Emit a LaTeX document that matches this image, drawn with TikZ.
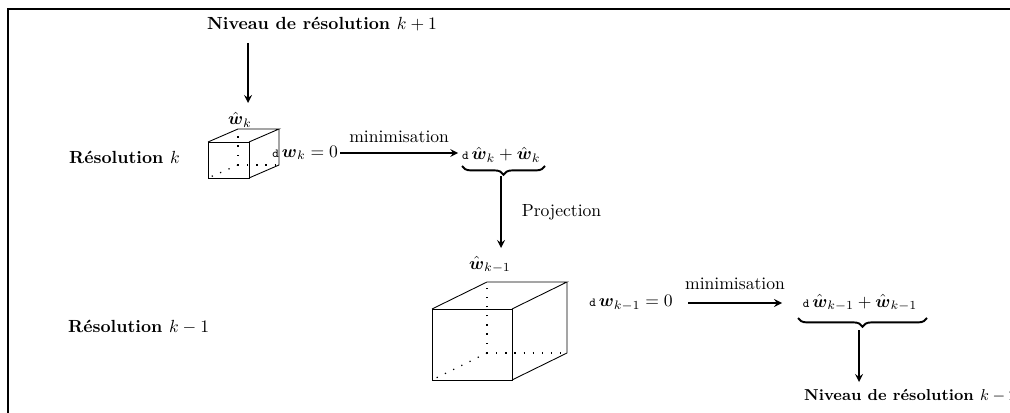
\documentclass[tikz,border=0pt]{standalone}
\usepackage{amsmath}
\usepackage{amssymb}
\usepackage{tikz}
\usetikzlibrary{decorations.pathreplacing}

\newcommand{\dpetit}{\mbox{\scriptsize\ttfamily d}\,}

\begin{document}
\begin{tikzpicture}[flow/.style={->, >=stealth, line width=1pt},
		titre/.style={font=\bfseries},
		arete/.style={line width=0.5pt},
		cache/.style={dash pattern=on 0.7pt off 4.5pt, line width=0.7pt},
		accolade/.style={decorate, decoration={brace, mirror, amplitude=5pt}, line width=1.1pt}]
			\useasboundingbox (0,0) rectangle (20.2,-8.26);
			\draw[line width=0.6pt] (0.16,-8.3) -- (0.16,-0.18) -- (20.3,-0.18);
			% niveau k
			\node[titre] (nivhaut) at (6.44,-0.48) {Niveau de r\'esolution $k+1$};
			\node[titre, anchor=west] (resk) at (1.26,-3.14) {R\'esolution $k$};
			\node (wk) at (4.8,-2.4) {$\hat{\boldsymbol{w}}_k$};
			\coordinate (a1) at (4.96,-0.86);
			\draw[flow] (a1) -- (a1 |- 0,-2.06);
			\draw[arete] (4.16,-3.56) -- (4.98,-3.56) -- (4.98,-2.84) -- (4.16,-2.84) -- cycle;
			\draw[arete] (4.16,-2.84) -- (4.76,-2.58) -- (5.58,-2.58) -- (4.98,-2.84);
			\draw[arete] (5.58,-2.58) -- (5.58,-3.3) -- (4.98,-3.56);
			\draw[cache] (4.76,-3.3) -- (4.76,-2.58);
			\draw[cache] (4.76,-3.3) -- (5.58,-3.3);
			\draw[cache] (4.76,-3.3) -- (4.16,-3.56);
			\node[anchor=east, inner sep=1pt] (dwk) at (6.8,-3.06) {$\dpetit\boldsymbol{w}_k = 0$};
			\node[anchor=west, inner sep=1pt] (dhk) at (9.2,-3.1) {$\dpetit\hat{\boldsymbol{w}}_k + \hat{\boldsymbol{w}}_k$};
			\draw[flow] (dwk.east) -- ([xshift=-1pt]dwk.east -| dhk.west) node[midway, above=2pt] (mink) {minimisation};
			\draw[accolade] (9.24,-3.32) -- (10.9,-3.32);
			\coordinate (pk) at (10.02,-3.52);
			\draw[flow] (pk) -- (10.02,-4.96) node[midway, right=8pt] (proj) {Projection};
			% niveau k-1
			\node[titre, anchor=west] (resk1) at (1.24,-6.54) {R\'esolution $k-1$};
			\node (wk1) at (9.8,-5.3) {$\hat{\boldsymbol{w}}_{k-1}$};
			\draw[arete] (8.64,-7.6) -- (10.24,-7.6) -- (10.24,-6.18) -- (8.64,-6.18) -- cycle;
			\draw[arete] (8.64,-6.18) -- (9.74,-5.64) -- (11.34,-5.64) -- (10.24,-6.18);
			\draw[arete] (11.34,-5.64) -- (11.34,-7.06) -- (10.24,-7.6);
			\draw[cache] (9.74,-7.06) -- (9.74,-5.64);
			\draw[cache] (9.74,-7.06) -- (11.34,-7.06);
			\draw[cache] (9.74,-7.06) -- (8.64,-7.6);
			\node (dwk1) at (12.62,-6.06) {$\dpetit\boldsymbol{w}_{k-1} = 0$};
			\node (dhk1) at (17.2,-6.06) {$\dpetit\hat{\boldsymbol{w}}_{k-1} + \hat{\boldsymbol{w}}_{k-1}$};
			\draw[flow] (13.76,-6.06) -- (15.64,-6.06) node[midway, above=4pt] (mink1) {minimisation};
			\draw[accolade] (15.96,-6.36) -- (18.54,-6.36);
			\coordinate (pk1) at (17.18,-6.6);
			\draw[flow] (pk1) -- (17.18,-7.64);
			\node[titre, font=\bfseries\small, anchor=west] (nivbas) at (15.96,-7.92) {Niveau de r\'esolution $k-2$};
		\end{tikzpicture}
\end{document}
